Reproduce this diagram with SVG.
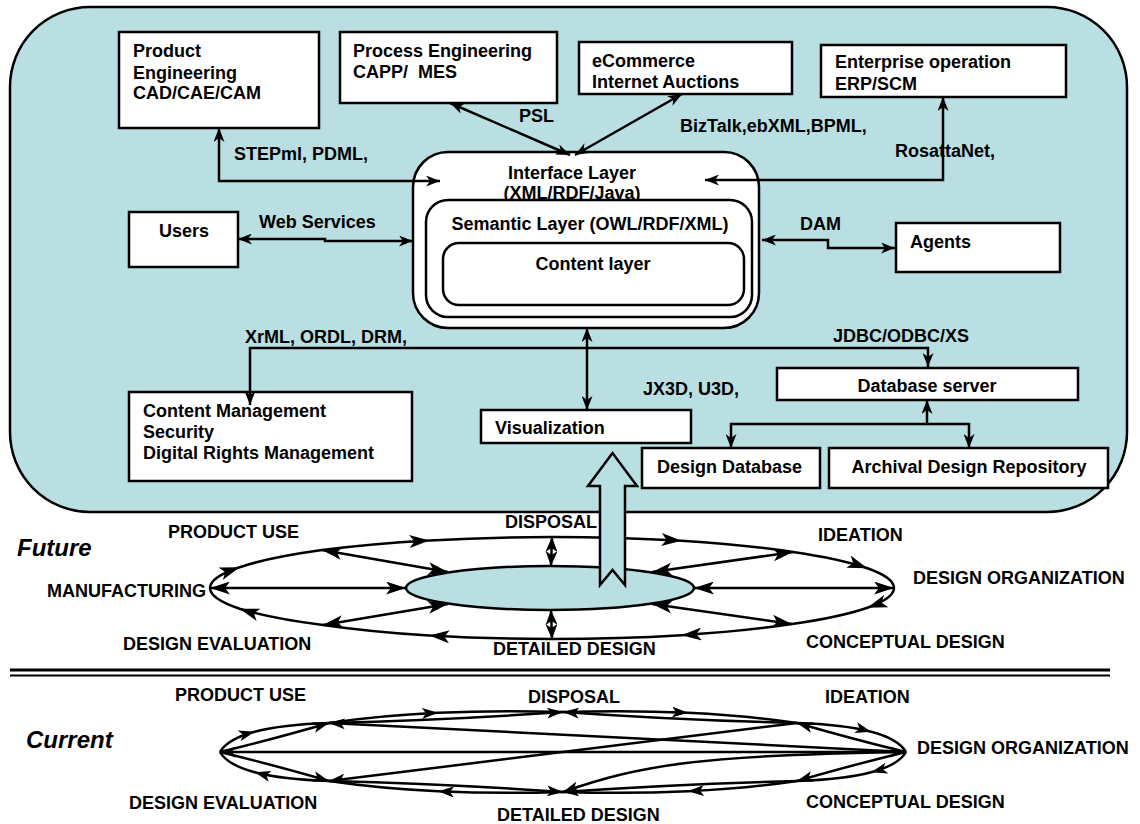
<svg xmlns="http://www.w3.org/2000/svg" width="1140" height="824" viewBox="0 0 1140 824">
<style>
text{font-family:"Liberation Sans",Arial,Helvetica,sans-serif;font-weight:bold;font-size:18px;fill:#000}
.it{font-style:italic;font-size:24px}
.mid{text-anchor:middle}
.box{fill:#fff;stroke:#000;stroke-width:2.5}
.cy{fill:#b9dfe3;stroke:#000;stroke-width:2.5}
.ln{fill:none;stroke:#000;stroke-width:2.5}
.ta{marker-start:url(#ah);marker-end:url(#ah)}
.fa{marker-start:url(#fh);marker-end:url(#fh)}
.fm{marker-mid:url(#fh)}
.sd{marker-start:url(#sh);marker-end:url(#sh)}
.cm{marker-mid:url(#ch)}
.ce{marker-end:url(#ch)}
.cb{marker-start:url(#ch);marker-end:url(#ch)}
</style>
<defs>
<marker id="ah" viewBox="0 0 14 11" refX="14" refY="5.5" markerWidth="14" markerHeight="11" markerUnits="userSpaceOnUse" orient="auto-start-reverse"><path d="M0,0 L14,5.5 L0,11 L4,5.5 z"/></marker>
<marker id="fh" viewBox="0 0 20 13" refX="20" refY="6.5" markerWidth="20" markerHeight="13" markerUnits="userSpaceOnUse" orient="auto-start-reverse"><path d="M0,0 L20,6.5 L0,13 L5,6.5 z"/></marker>
<marker id="sh" viewBox="0 0 15 12" refX="15" refY="6" markerWidth="15" markerHeight="12" markerUnits="userSpaceOnUse" orient="auto-start-reverse"><path d="M0,0 L15,6 L0,12 L4,6 z"/></marker>
<marker id="ch" viewBox="0 0 16 11" refX="16" refY="5.5" markerWidth="16" markerHeight="11" markerUnits="userSpaceOnUse" orient="auto-start-reverse"><path d="M0,0 L16,5.5 L0,11 L4,5.5 z"/></marker>
</defs>

<rect id="platform" class="cy" x="10" y="7" width="1117" height="505" rx="80" ry="80"/>

<g id="product-engineering"><rect class="box" x="119" y="32" width="200" height="96"/><text x="133" y="57">Product</text><text x="133" y="79">Engineering</text><text x="133" y="99">CAD/CAE/CAM</text></g>
<g id="process-engineering"><rect class="box" x="340" y="32" width="217" height="71"/><text x="353" y="57">Process Engineering</text><text x="353" y="78" xml:space="preserve">CAPP/  MES</text></g>
<g id="ecommerce"><rect class="box" x="579" y="42" width="213" height="52"/><text x="592" y="67">eCommerce</text><text x="592" y="88">Internet Auctions</text></g>
<g id="enterprise"><rect class="box" x="821" y="45" width="245" height="52"/><text x="835" y="68">Enterprise operation</text><text x="835" y="90">ERP/SCM</text></g>
<g id="users"><rect class="box" x="129" y="212" width="109" height="55"/><text class="mid" x="184" y="237">Users</text></g>
<g id="agents"><rect class="box" x="896" y="223" width="164" height="49"/><text x="910" y="248">Agents</text></g>
<g id="interface-layer"><rect class="box" x="413" y="152" width="346" height="176" rx="35" ry="35"/><text class="mid" x="572" y="179">Interface Layer</text><text class="mid" x="572" y="199">(XML/RDF/Java)</text>
<rect class="box" x="426" y="200" width="326" height="117" rx="22" ry="22"/><text class="mid" x="590" y="230">Semantic Layer (OWL/RDF/XML)</text>
<rect class="box" x="443" y="243" width="301" height="62" rx="16" ry="16"/><text class="mid" x="593" y="270">Content layer</text></g>
<g id="content-management"><rect class="box" x="129" y="392" width="283" height="89"/><text x="143" y="417">Content Management</text><text x="143" y="438">Security</text><text x="143" y="459">Digital Rights Management</text></g>
<g id="visualization"><rect class="box" x="481" y="410" width="210" height="33"/><text x="495" y="434">Visualization</text></g>
<g id="database-server"><rect class="box" x="777" y="368" width="301" height="32"/><text class="mid" x="927" y="392">Database server</text></g>
<g id="design-database"><rect class="box" x="642" y="448" width="178" height="40"/><text x="657" y="473">Design Database</text></g>
<g id="archival-repository"><rect class="box" x="829" y="448" width="279" height="40"/><text class="mid" x="969" y="473">Archival Design Repository</text></g>

<g id="connectors">
<path class="ln ta" d="M219,128 V181 H440"/>
<path class="ln ta" d="M943,97 V180 H705"/>
<path class="ln ta" d="M450,103 L570,155"/>
<path class="ln ta" d="M682,94 L575,155"/>
<path class="ln ta" d="M238,239 H325 V241 H413"/>
<path class="ln ta" d="M762,240 H828 V248 H895"/>
<path class="ln ta" d="M250,405 V348 H928 V367"/>
<path class="ln ta" d="M587,328 V410"/>
<path class="ln" d="M927,400 V424" marker-start="url(#ah)"/>
<path class="ln ta" d="M731,448 V424 H969 V448"/>
</g>
<g id="connector-labels">
<text x="234" y="160">STEPml, PDML,</text>
<text x="519" y="122">PSL</text>
<text x="680" y="132">BizTalk,ebXML,BPML,</text>
<text x="895" y="157">RosattaNet,</text>
<text x="259" y="228">Web Services</text>
<text x="800" y="230">DAM</text>
<text x="245" y="343">XrML, ORDL, DRM,</text>
<text x="833" y="342">JDBC/ODBC/XS</text>
<text x="643" y="395">JX3D, U3D,</text>
</g>

<g id="future-hub"><ellipse class="cy" cx="550" cy="588" rx="144" ry="22"/></g>
<g id="future-connectors">
<path class="ln fm" d="M210,588 A342,51 0 0 1 239.6,567.3 A342,51 0 0 1 322,550"/>
<path class="ln fm" d="M322,550 A342,51 0 0 1 429.4,540.4 A342,51 0 0 1 552,537"/>
<path class="ln fm" d="M552,537 A342,51 0 0 1 681.5,540.8 A342,51 0 0 1 793,552"/>
<path class="ln fm" d="M793,552 A342,51 0 0 1 867.4,568.3 A342,51 0 0 1 894,588"/>
<path class="ln fm" d="M894,588 A342,51 0 0 1 867.4,607.7 A342,51 0 0 1 792,624"/>
<path class="ln fm" d="M792,624 A342,51 0 0 1 681.5,635.2 A342,51 0 0 1 552,639"/>
<path class="ln fm" d="M552,639 A342,51 0 0 1 429.4,635.6 A342,51 0 0 1 323,625"/>
<path class="ln fm" d="M323,625 A342,51 0 0 1 239.6,608.7 A342,51 0 0 1 210,588"/>
<path class="ln fa" d="M322,550 L448,572"/>
<path class="ln fa" d="M210,588 L406,588"/>
<path class="ln fa" d="M323,625 L448,604"/>
<path class="ln fa" d="M793,552 L652,572"/>
<path class="ln fa" d="M894,588 L694,588"/>
<path class="ln fa" d="M792,624 L652,604"/>
<path class="ln sd" d="M552,537 L551,566"/>
<path class="ln sd" d="M552,639 L551,610"/>
</g>
<path id="feed-arrow" class="cy" stroke-width="2" d="M600,585 L600,486 L588,486 L612.5,453 L637,486 L625,486 L625,585 L612.5,570 Z"/>

<g id="future-labels">
<text class="it" x="17" y="556">Future</text>
<text x="168" y="538">PRODUCT USE</text>
<text x="505" y="528">DISPOSAL</text>
<text x="818" y="541">IDEATION</text>
<text x="913" y="584">DESIGN ORGANIZATION</text>
<text x="806" y="648">CONCEPTUAL DESIGN</text>
<text x="493" y="655">DETAILED DESIGN</text>
<text x="123" y="650">DESIGN EVALUATION</text>
<text x="47" y="597">MANUFACTURING</text>
</g>

<g id="separator"><line x1="10" y1="670" x2="1110" y2="670" stroke="#000" stroke-width="3"/><line x1="10" y1="675.5" x2="1110" y2="675.5" stroke="#000" stroke-width="2"/></g>

<g id="current-connectors">
<path class="ln cm" d="M220,752 Q227.5,739 254.75,731.75 Q282,724.5 329,723"/>
<path class="ln cm" d="M329,723 Q379.5,715.5 438,712.75 Q496.5,710 563,712"/>
<path class="ln cm" d="M563,712 Q629.5,710 688,712.75 Q746.5,715.5 797,723"/>
<path class="ln cm" d="M797,723 Q844,724.5 871.25,731.75 Q898.5,739 906,752"/>
<path class="ln cm" d="M906,752 Q898.5,765 871.25,772.25 Q844,779.5 797,781"/>
<path class="ln cm" d="M797,781 Q746.5,788.5 688,791.25 Q629.5,794 563,792"/>
<path class="ln cm" d="M563,792 Q496.5,794 438,791.25 Q379.5,788.5 329,781"/>
<path class="ln cm" d="M329,781 Q282,779.5 254.75,772.25 Q227.5,765 220,752"/>
<path class="ln ce" d="M220,752 Q270,740 329,723"/>
<path class="ln ce" d="M329,723 Q450,720 563,712"/>
<path class="ln ce" d="M797,723 Q676,720 563,712"/>
<path class="ln ce" d="M906,752 Q856,740 797,723"/>
<path class="ln ce" d="M906,752 Q856,764 797,781"/>
<path class="ln ce" d="M797,781 Q676,784 563,792"/>
<path class="ln ce" d="M329,781 Q450,784 563,792"/>
<path class="ln ce" d="M220,752 Q270,764 329,781"/>
<path class="ln ce" d="M906,752 L329,723"/>
<path class="ln ce" d="M797,723 L329,781"/>
<path class="ln cb" d="M220,752 L906,752"/>
<path class="ln ce" d="M906,752 C700,755 640,765 563,792"/>
</g>

<g id="current-labels">
<text class="it" x="26" y="748">Current</text>
<text x="175" y="701">PRODUCT USE</text>
<text x="528" y="703">DISPOSAL</text>
<text x="825" y="703">IDEATION</text>
<text x="917" y="754">DESIGN ORGANIZATION</text>
<text x="806" y="808">CONCEPTUAL DESIGN</text>
<text x="497" y="821">DETAILED DESIGN</text>
<text x="129" y="809">DESIGN EVALUATION</text>
</g>
</svg>
